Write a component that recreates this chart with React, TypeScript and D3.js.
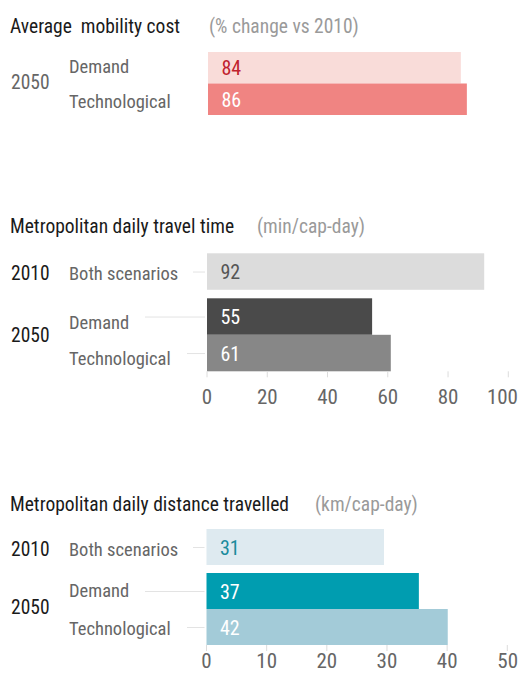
import React from "react";
import * as d3 from "d3";

// ---- data ----
const costLabels = ["Demand", "Technological"];
const costYears = ["2050", "2050"];
const costValues = [84, 86];
const costText = ["84", "86"];

const timeLabels = ["Both scenarios", "Demand", "Technological"];
const timeYears = ["2010", "2050", "2050"];
const timeValues = [92, 54.8, 61];
const timeText = ["92", "55", "61"];
const timeTicks = [0, 20, 40, 60, 80, 100];

const distLabels = ["Both scenarios", "Demand", "Technological"];
const distYears = ["2010", "2050", "2050"];
const distValues = [29.5, 35.3, 40.1];
const distText = ["31", "37", "42"];
const distTicks = [0, 10, 20, 30, 40, 50];

const FONT = "'Roboto Condensed', Roboto, sans-serif";

type PanelProps = {
  title: string;
  subtitle: string;
  subtitleX: number;
  titleY: number;
  labels: string[];
  years: string[];
  values: number[];
  texts: string[];
  domainMax: number;
  range: [number, number];
  top: number;
  barH: number;
  groupGap: number;
  fills: string[];
  textFills: string[];
  yearFill: string;
  labelOffsets: number[];
  yearOffset: number;
  ticks?: number[];
  tickLabelOffset?: number;
  leaders: boolean;
  leaderStarts: number[];
};

function Panel(p: PanelProps) {
  const x = d3.scaleLinear().domain([0, p.domainMax]).range(p.range);
  const n = p.values.length;
  const single = n === 3; // first row is its own group (2010)
  const yTop = (i: number) => p.top + i * p.barH + (single && i >= 1 ? p.groupGap : 0);
  const pairStart = single ? 1 : 0;
  const pairBoundary = yTop(pairStart) + p.barH;
  const bottom = yTop(n - 1) + p.barH;
  return (
    <g>
      <text x={10} y={p.titleY} fontSize={19.5} fill="#1a1a1a" style={{ whiteSpace: "pre" }}>
        {p.title}
      </text>
      <text x={p.subtitleX} y={p.titleY} fontSize={19.5} fill="#9a9a9a">
        {p.subtitle}
      </text>
      {p.values.map((v, i) => {
        const y0 = yTop(i);
        const cy = y0 + p.barH / 2;
        const isSingle = single && i === 0;
        return (
          <g key={i}>
            <rect x={x(0)} y={y0} width={x(v) - x(0)} height={p.barH} fill={p.fills[i]} />
            {p.leaders && (
              <line x1={p.leaderStarts[i]} x2={x(0) - 2} y1={cy + 0.5} y2={cy + 0.5} stroke="#e3e3e3" strokeWidth={1} />
            )}
            <text x={69} y={cy + p.labelOffsets[i]} fontSize={18.5} fill="#666">
              {p.labels[i]}
            </text>
            <text x={x(0) + 13.5} y={cy + 7.5} fontSize={20} fill={p.textFills[i]}>
              {p.texts[i]}
            </text>
            {isSingle && (
              <text x={11} y={cy + p.labelOffsets[i]} fontSize={19.5} fill={p.yearFill}>
                {p.years[i]}
              </text>
            )}
          </g>
        );
      })}
      <text x={11} y={pairBoundary + p.yearOffset} fontSize={19.5} fill={p.yearFill}>
        {p.years[n - 1]}
      </text>
      {p.ticks && (
        <g>
          {p.ticks.map((t, k) => {
            const last = k === p.ticks!.length - 1;
            const tx = x(t);
            const anchorEnd = last && tx + 14 > 516;
            return (
              <g key={t}>
                <line x1={tx} x2={tx} y1={bottom} y2={bottom + 6} stroke="#dcdcdc" strokeWidth={1} />
                <text
                  x={anchorEnd ? 518 : tx}
                  y={bottom + (p.tickLabelOffset ?? 30)}
                  fontSize={21}
                  fill="#666"
                  textAnchor={anchorEnd ? "end" : "middle"}
                >
                  {t}
                </text>
              </g>
            );
          })}
        </g>
      )}
    </g>
  );
}

export default function App() {
  return (
    <svg width={520} height={673} style={{ position: "absolute", left: 0, top: 0 }} fontFamily={FONT}>
      <rect width={520} height={673} fill="#fff" />
      <Panel
        title="Average  mobility cost"
        subtitle="(% change vs 2010)"
        subtitleX={209}
        titleY={33}
        labels={costLabels}
        years={costYears}
        values={costValues}
        texts={costText}
        domainMax={100}
        range={[208, 509]}
        top={52}
        barH={31.5}
        groupGap={0}
        fills={["#f9dcd9", "#f08482"]}
        textFills={["#c0222e", "#ffffff"]}
        yearFill="#666"
        labelOffsets={[5.5, 9]}
        yearOffset={5}
        leaders={false}
        leaderStarts={[]}
      />
      <Panel
        title="Metropolitan daily travel time"
        subtitle="(min/cap-day)"
        subtitleX={257}
        titleY={233}
        labels={timeLabels}
        years={timeYears}
        values={timeValues}
        texts={timeText}
        domainMax={100}
        range={[207, 508.3]}
        top={253.3}
        barH={36.5}
        groupGap={8.5}
        fills={["#dcdcdc", "#4a4a4a", "#878787"]}
        textFills={["#555", "#fff", "#fff"]}
        yearFill="#1a1a1a"
        labelOffsets={[8, 12.5, 12.4]}
        yearOffset={6.7}
        ticks={timeTicks}
        tickLabelOffset={32.5}
        leaders={true}
        leaderStarts={[193, 145, 187]}
      />
      <Panel
        title="Metropolitan daily distance travelled"
        subtitle="(km/cap-day)"
        subtitleX={315}
        titleY={511}
        labels={distLabels}
        years={distYears}
        values={distValues}
        texts={distText}
        domainMax={50}
        range={[206.5, 507.3]}
        top={529}
        barH={36}
        groupGap={8}
        fills={["#deeaf0", "#009db0", "#a3cbd8"]}
        textFills={["#1b8b9c", "#fff", "#fff"]}
        yearFill="#1a1a1a"
        labelOffsets={[9, 5.7, 8]}
        yearOffset={5}
        ticks={distTicks}
        tickLabelOffset={23}
        leaders={true}
        leaderStarts={[193, 145, 187]}
      />
    </svg>
  );
}
